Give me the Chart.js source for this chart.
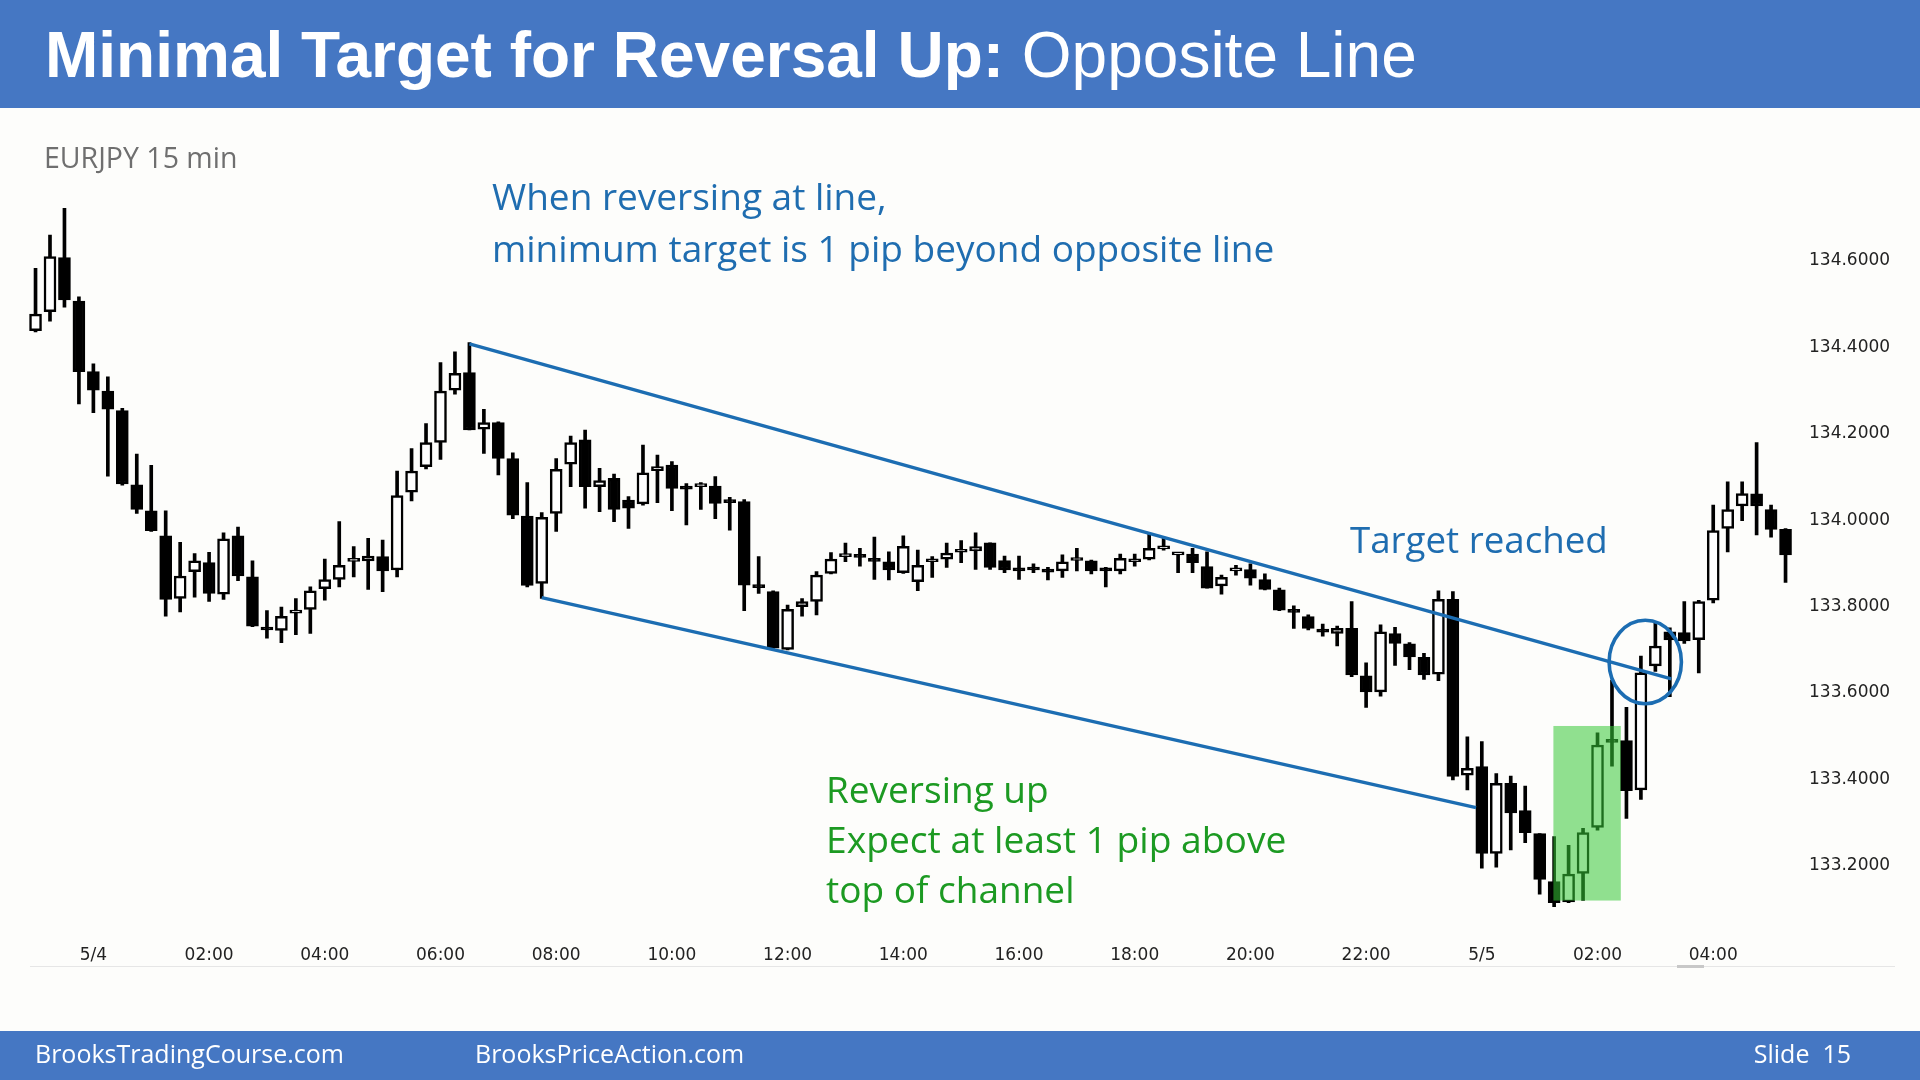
<!DOCTYPE html>
<html><head><meta charset="utf-8">
<script src="https://cdn.jsdelivr.net/npm/chart.js@4.4.1/dist/chart.umd.min.js"></script>
<style>
html,body{margin:0;padding:0;width:1920px;height:1080px;overflow:hidden;background:#fdfdfb;}
#slide{position:relative;width:1920px;height:1080px;}
.band{position:absolute;left:0;width:1920px;background:#4577c3;}
.t{position:absolute;white-space:nowrap;line-height:1;font-family:'Open Sans',sans-serif;}
canvas{position:absolute;left:0;top:0;}
</style></head><body>
<div id="slide">
<div class="band" style="top:0;height:108px"></div>
<div class="band" style="top:1031px;height:49px"></div>
<div style="position:absolute;left:30px;top:966px;width:1865px;height:1px;background:#e6e6e6"></div>
<div style="position:absolute;left:1677px;top:965px;width:27px;height:3px;background:#c8c8c8"></div>
<canvas id="c" width="1920" height="1080"></canvas>
<div class="t" style="left:45px;top:23px;font-family:'Liberation Sans',Arial,sans-serif;font-size:64px;line-height:64px;color:#fff"><b>Minimal Target for Reversal Up:</b> Opposite Line</div>
<div class="t" style="left:44px;top:143px;font-size:28.5px;color:#6f6f6f">EURJPY 15 min</div>
<div class="t" style="left:492px;top:177px;font-size:37px;color:#1f6db0">When reversing at line,</div>
<div class="t" style="left:492px;top:229px;font-size:37px;color:#1f6db0">minimum target is 1 pip beyond opposite line</div>
<div class="t" style="left:1350px;top:521px;font-size:36.7px;color:#1f6db0">Target reached</div>
<div class="t" style="left:826px;top:770px;font-size:37px;color:#1c9a22">Reversing up</div>
<div class="t" style="left:826px;top:820px;font-size:37.2px;color:#1c9a22">Expect at least 1 pip above</div>
<div class="t" style="left:826px;top:870px;font-size:37px;color:#1c9a22">top of channel</div>
<div class="t" style="left:35px;top:1041px;font-size:25px;color:#fff">BrooksTradingCourse.com</div>
<div class="t" style="left:475px;top:1041px;font-size:25px;color:#fff">BrooksPriceAction.com</div>
<div class="t" style="right:69px;top:1041px;font-size:25px;color:#fff">Slide&nbsp; 15</div>
</div>
<script>
// EURJPY 15 min bars, first bar 5/3 23:00
const opens  = [134.433,134.477,134.602,134.501,134.338,134.293,134.248,134.076,134.016,133.958,133.813,133.875,133.896,133.823,133.958,133.863,133.746,133.739,133.779,133.788,133.836,133.857,133.899,133.900,133.910,133.879,134.059,134.118,134.174,134.295,134.336,134.205,134.220,134.137,134.004,133.848,134.010,134.124,134.180,134.072,134.091,134.041,134.032,134.109,134.122,134.069,134.072,134.073,134.039,134.037,133.843,133.829,133.695,133.794,133.806,133.871,133.910,133.911,133.904,133.898,133.873,133.852,133.898,133.904,133.920,133.923,133.942,133.901,133.881,133.882,133.877,133.877,133.901,133.900,133.881,133.877,133.898,133.904,133.928,133.914,133.916,133.887,133.842,133.877,133.880,133.857,133.833,133.784,133.771,133.738,133.732,133.744,133.634,133.597,133.732,133.708,133.677,133.638,133.811,133.404,133.424,133.223,133.385,133.322,133.269,133.158,133.111,133.177,133.283,133.483,133.484,133.370,133.657,133.736,133.734,133.718,133.809,133.975,134.027,134.055,134.019,133.973];
const highs  = [134.577,134.654,134.716,134.511,134.356,134.326,134.253,134.147,134.121,134.016,133.943,133.917,133.920,133.965,133.978,133.900,133.785,133.793,133.813,133.840,133.904,133.991,133.933,133.952,133.948,134.108,134.160,134.218,134.359,134.384,134.405,134.251,134.222,134.150,134.081,134.012,134.137,134.189,134.203,134.114,134.101,134.049,134.168,134.145,134.130,134.079,134.081,134.095,134.047,134.042,133.910,133.831,133.798,133.813,133.875,133.919,133.941,133.929,133.955,133.921,133.958,133.925,133.910,133.941,133.947,133.965,133.942,133.911,133.911,133.893,133.885,133.914,133.929,133.902,133.885,133.916,133.916,133.962,133.952,133.916,133.929,133.921,133.867,133.890,133.893,133.870,133.837,133.796,133.775,133.754,133.749,133.806,133.664,133.752,133.746,133.711,133.686,133.831,133.829,133.493,133.482,133.408,133.402,133.379,133.269,133.262,133.242,133.281,133.502,133.624,133.561,133.680,133.759,133.745,133.806,133.809,134.029,134.083,134.083,134.174,134.029,133.975];
const lows   = [134.430,134.455,134.487,134.263,134.243,134.096,134.075,134.010,133.968,133.772,133.782,133.816,133.806,133.811,133.854,133.748,133.721,133.711,133.729,133.732,133.809,133.840,133.863,133.834,133.829,133.863,134.039,134.113,134.135,134.286,134.203,134.149,134.099,133.998,133.840,133.813,133.968,134.072,134.022,134.014,133.991,133.975,134.029,134.035,134.016,133.983,134.019,133.998,133.971,133.785,133.825,133.698,133.694,133.772,133.775,133.870,133.898,133.888,133.857,133.856,133.871,133.831,133.862,133.885,133.896,133.880,133.880,133.873,133.857,133.873,133.856,133.862,133.877,133.870,133.840,133.870,133.888,133.902,133.925,133.873,133.873,133.837,133.823,133.867,133.844,133.833,133.785,133.744,133.740,133.726,133.703,133.632,133.561,133.587,133.658,133.648,133.626,133.623,133.393,133.370,133.189,133.191,133.231,133.248,133.129,133.100,133.109,133.114,133.277,133.425,133.304,133.348,133.644,133.586,133.709,133.641,133.803,133.921,133.993,133.960,133.955,133.850];
const closes = [134.471,134.604,134.504,134.338,134.295,134.251,134.078,134.019,133.970,133.811,133.865,133.900,133.825,133.951,133.865,133.749,133.740,133.772,133.782,133.831,133.857,133.890,133.902,133.911,133.877,134.051,134.108,134.174,134.293,134.334,134.203,134.220,134.137,134.006,133.843,134.001,134.112,134.174,134.072,134.086,134.019,134.022,134.104,134.118,134.068,134.066,134.075,134.033,134.035,133.844,133.838,133.698,133.788,133.806,133.867,133.904,133.913,133.908,133.899,133.879,133.934,133.890,133.901,133.918,133.923,133.933,133.885,133.879,133.877,133.879,133.874,133.898,133.904,133.877,133.877,133.906,133.901,133.929,133.931,133.915,133.896,133.837,133.862,133.880,133.860,133.834,133.786,133.781,133.744,133.735,133.744,133.636,133.597,133.736,133.709,133.678,133.636,133.811,133.401,133.420,133.223,133.385,133.317,133.271,133.163,133.109,133.175,133.271,133.474,133.480,133.368,133.641,133.703,133.717,133.715,133.806,133.970,134.019,134.056,134.027,133.973,133.914];

const timeLabels = ['5/4','02:00','04:00','06:00','08:00','10:00','12:00','14:00','16:00','18:00','20:00','22:00','5/5','02:00','04:00'];
const timeLabelBars = [4,12,20,28,36,44,52,60,68,76,84,92,100,108,116];
const priceTicks = [133.2,133.4,133.6,133.8,134.0,134.2,134.4,134.6];

// annotations (bar index, price)
const upperLine = [{x:30, y:134.402},{x:113.1, y:133.627}];
const lowerLine = [{x:35, y:133.815},{x:99.6, y:133.329}];
const greenZone = {x0:104.95, x1:109.61, y0:133.114, y1:133.518};
const targetCircle = {x:111.3, y:133.666, rx:2.5, ry:0.0965};

const bars = opens.map((_, i) => i);
const wickData = bars.map(i => ({x:i, y:[lows[i], highs[i]]}));
const bodyData = bars.map(i => ({x:i, y:[opens[i], closes[i]]}));

const overlay = {
  id:'overlay',
  afterDatasetsDraw(chart){
    const {ctx, scales:{x, y}} = chart;
    ctx.save();
    const gx0 = x.getPixelForValue(greenZone.x0), gx1 = x.getPixelForValue(greenZone.x1);
    const gy0 = y.getPixelForValue(greenZone.y1), gy1 = y.getPixelForValue(greenZone.y0);
    ctx.fillStyle = 'rgba(55,200,55,0.55)';
    ctx.fillRect(gx0, gy0, gx1-gx0, gy1-gy0);
    const cx = x.getPixelForValue(targetCircle.x), cy = y.getPixelForValue(targetCircle.y);
    const rx = x.getPixelForValue(targetCircle.x + targetCircle.rx) - cx;
    const ry = y.getPixelForValue(targetCircle.y - targetCircle.ry) - cy;
    ctx.beginPath();
    ctx.ellipse(cx, cy, rx, ry, 0, 0, Math.PI*2);
    ctx.strokeStyle = '#1c6db2';
    ctx.lineWidth = 3.6;
    ctx.stroke();
    ctx.restore();
  }
};

const noPad = s => { s.paddingLeft = 0; s.paddingRight = 0; s.paddingTop = 0; s.paddingBottom = 0; };

new Chart(document.getElementById('c'), {
  type:'bar',
  data:{
    datasets:[
      {type:'line', data:upperLine, borderColor:'#1c6db2', borderWidth:3.4, pointRadius:0, order:0},
      {type:'line', data:lowerLine, borderColor:'#1c6db2', borderWidth:3.4, pointRadius:0, order:0},
      {data:bodyData, grouped:false, barThickness:12, minBarLength:3, borderWidth:2.5, borderSkipped:false,
       borderColor:'#000', backgroundColor: c => closes[c.dataIndex] >= opens[c.dataIndex] ? '#ffffff' : '#000000', order:1},
      {data:wickData, grouped:false, barThickness:3, borderWidth:0, backgroundColor:'#000', order:2}
    ]
  },
  options:{
    responsive:false, animation:false, devicePixelRatio:1,
    layout:{padding:{left:28.3, top:193.6, right:0, bottom:91.8}},
    plugins:{legend:{display:false}, tooltip:{enabled:false}},
    scales:{
      x:{type:'linear', min:-0.5, max:122, offset:false,
        grid:{display:false, drawTicks:false}, border:{display:false},
        afterBuildTicks: s => { s.ticks = timeLabelBars.map(v => ({value:v})); },
        afterFit: s => { s.height = 60; noPad(s); },
        ticks:{autoSkip:false, maxRotation:0, padding:17, color:'#222',
          font:{family:'DejaVu Sans', size:17},
          callback:(v, i) => timeLabels[i]}
      },
      y:{type:'linear', position:'right', min:133.05, max:134.75,
        grid:{display:false, drawTicks:false}, border:{display:false},
        afterBuildTicks: s => { s.ticks = priceTicks.map(v => ({value:v})); },
        afterFit: s => { s.width = 120; noPad(s); },
        ticks:{padding:9, labelOffset:2.5, color:'#222', font:{family:'DejaVu Sans', size:17},
          callback: v => Number(v).toFixed(4)}
      }
    }
  },
  plugins:[overlay]
});
</script>
</body></html>
